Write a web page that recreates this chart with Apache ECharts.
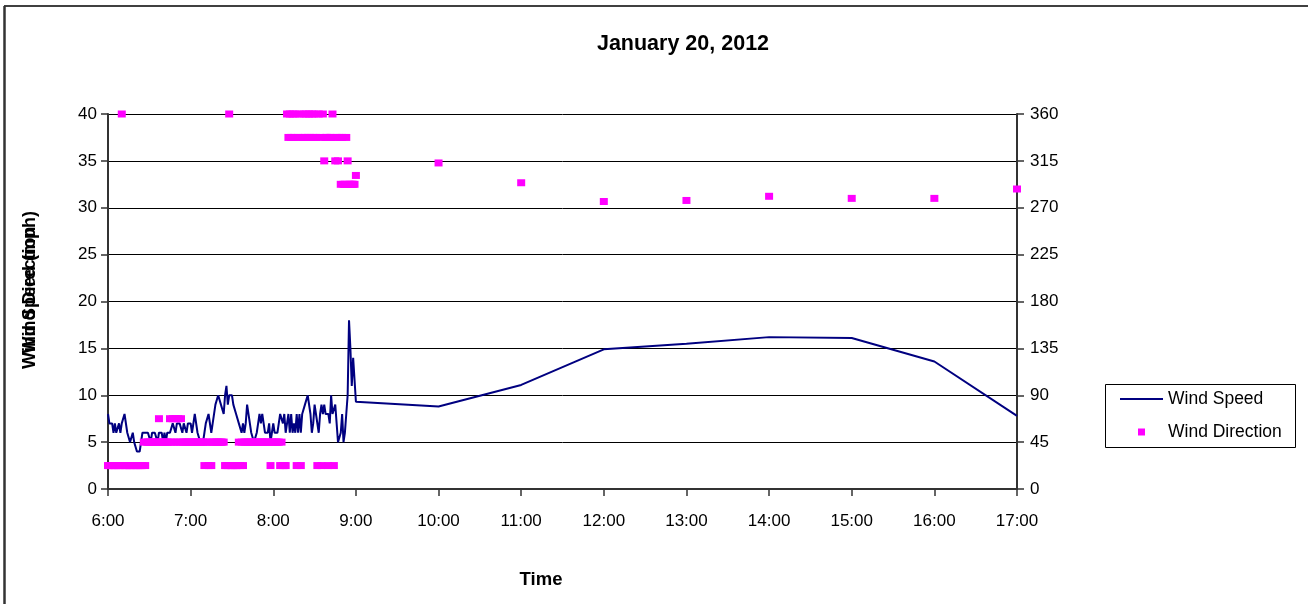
<!DOCTYPE html>
<html>
<head>
<meta charset="utf-8">
<script src="https://cdn.jsdelivr.net/npm/echarts@6/dist/echarts.min.js"></script>
<style>
  html, body { margin: 0; padding: 0; background: #ffffff; }
  #chart { width: 1308px; height: 604px; }
</style>
</head>
<body>
<div id="chart"></div>
<script>
// Chart text
const chartTitle = 'January 20, 2012';
const xAxisTitle = 'Time';
const leftAxisTitles = ['Wind Speed (mph)', 'Wind Direction'];
const seriesNames = ['Wind Speed', 'Wind Direction'];

// Time axis range (hours of the day)
const firstHour = 6;
const lastHour = 17;

// Wind speed (mph), one reading per minute from 6:00 to 8:59
const speedByMinute = [
  8, 7, 7, 7, 6, 7, 6, 6, 7, 6,
  7, 7, 8, 8, 6, 6, 5, 5, 6, 5,
  5, 4, 4, 4, 4, 6, 6, 6, 6, 6,
  6, 5, 6, 6, 6, 6, 5, 6, 6, 6,
  5, 6, 5, 6, 6, 6, 6, 7, 7, 6,
  7, 7, 7, 7, 6, 7, 7, 6, 7, 7,
  7, 6, 7, 8, 8, 6, 6, 5, 5, 5,
  6, 7, 7, 8, 8, 6, 7, 7, 9, 9,
  10, 10, 9, 9, 8, 10, 11, 9, 10, 10,
  10, 9, 9, 8, 8, 7, 7, 6, 7, 6,
  7, 9, 9, 7, 6, 6, 5, 5, 6, 7,
  8, 7, 8, 7, 6, 6, 6, 7, 5, 6,
  7, 6, 6, 6, 7, 8, 8, 7, 8, 6,
  7, 8, 6, 8, 6, 7, 6, 8, 6, 8,
  6, 8, 8, 9, 9, 10, 10, 8, 6, 7,
  9, 8, 8, 6, 8, 9, 8, 9, 8, 8,
  8, 7, 10, 8, 8, 9, 7, 5, 5, 6,
  8, 5, 6, 8, 10, 18, 15, 11, 14, 14
];

// Wind direction (degrees), one reading per minute from 6:00 to 8:59
const directionByMinute = [
  22.5, 22.5, 22.5, 22.5, 22.5, 22.5, 22.5, 22.5, 22.5, 22.5,
  360, 22.5, 22.5, 22.5, 22.5, 22.5, 22.5, 22.5, 22.5, 22.5,
  22.5, 22.5, 22.5, 22.5, 22.5, 22.5, 45, 22.5, 45, 45,
  45, 45, 45, 45, 45, 45, 45, 67.5, 45, 45,
  45, 45, 45, 45, 45, 67.5, 45, 67.5, 45, 67.5,
  45, 67.5, 45, 67.5, 45, 45, 45, 45, 45, 45,
  45, 45, 45, 45, 45, 45, 45, 45, 45, 45,
  22.5, 45, 45, 22.5, 45, 22.5, 45, 45, 45, 45,
  45, 45, 45, 45, 45, 22.5, 22.5, 22.5, 360, 22.5,
  22.5, 22.5, 22.5, 22.5, 22.5, 45, 22.5, 45, 22.5, 45,
  45, 45, 45, 45, 45, 45, 45, 45, 45, 45,
  45, 45, 45, 45, 45, 45, 45, 45, 22.5, 45,
  45, 45, 45, 45, 45, 22.5, 45, 22.5, 22.5, 22.5,
  360, 337.5, 360, 337.5, 360, 337.5, 360, 22.5, 337.5, 360,
  22.5, 337.5, 360, 337.5, 360, 337.5, 360, 337.5, 360, 337.5,
  360, 337.5, 22.5, 360, 337.5, 22.5, 360, 315, 337.5, 337.5,
  22.5, 337.5, 337.5, 360, 22.5, 315, 337.5, 315, 337.5, 292.5,
  337.5, 292.5, 292.5, 337.5, 315, 292.5, 292.5, 292.5, 292.5, 292.5
];

// Hourly readings from 9:00 onward
const hourlyTimes = ['9:00', '10:00', '11:00', '12:00', '13:00', '14:00', '15:00', '16:00', '17:00'];
const hourlySpeed = [9.3, 8.8, 11.1, 14.9, 15.5, 16.2, 16.1, 13.6, 7.8];
const hourlyDirection = [301, 313, 294, 276, 277, 281, 279, 279, 288];

function clockToHours(label) {
  const parts = label.split(':').map(Number);
  return parts[0] + parts[1] / 60;
}

function buildSeries(perMinute, hourly) {
  const points = perMinute.map((v, i) => [firstHour + i / 60, v]);
  hourlyTimes.forEach((t, i) => points.push([clockToHours(t), hourly[i]]));
  return points;
}

const speedData = buildSeries(speedByMinute, hourlySpeed);
const directionData = buildSeries(directionByMinute, hourlyDirection);

const FONT = '"Liberation Sans", Arial, sans-serif';
const speedColor = '#000080';
const directionColor = '#FF00FF';

const chart = echarts.init(document.getElementById('chart'), null, { renderer: 'canvas' });

chart.setOption({
  animation: false,
  backgroundColor: '#ffffff',
  textStyle: { fontFamily: FONT, color: '#000' },
  grid: { left: 108, right: 291, top: 114, bottom: 115, containLabel: false },
  xAxis: {
    type: 'value',
    min: firstHour,
    max: lastHour,
    interval: 1,
    axisLine: { show: true, lineStyle: { color: '#333', width: 2 } },
    axisTick: { show: true, length: 7, inside: false, lineStyle: { color: '#333', width: 1.5 } },
    axisLabel: {
      margin: 24,
      fontSize: 17,
      color: '#000',
      fontFamily: FONT,
      formatter: v => Math.round(v) + ':00'
    },
    splitLine: { show: false }
  },
  yAxis: [
    {
      type: 'value',
      position: 'left',
      min: 0,
      max: 40,
      interval: 5,
      axisLine: { show: true, lineStyle: { color: '#333', width: 2 } },
      axisTick: { show: true, length: 7, lineStyle: { color: '#333', width: 1.5 } },
      axisLabel: { margin: 11, fontSize: 17, color: '#000', fontFamily: FONT },
      splitLine: { show: true, lineStyle: { color: '#000', width: 1 } }
    },
    {
      type: 'value',
      position: 'right',
      min: 0,
      max: 360,
      interval: 45,
      axisLine: { show: true, lineStyle: { color: '#333', width: 2 } },
      axisTick: { show: true, length: 7, lineStyle: { color: '#333', width: 1.5 } },
      axisLabel: { margin: 13, fontSize: 17, color: '#000', fontFamily: FONT },
      splitLine: { show: false }
    }
  ],
  legend: {
    orient: 'vertical',
    left: 1120,
    top: 389,
    padding: 0,
    itemGap: 13,
    itemWidth: 43,
    itemHeight: 7,
    symbolKeepAspect: true,
    textStyle: { fontSize: 17.5, lineHeight: 20, color: '#000', fontFamily: FONT },
    data: [
      { name: seriesNames[0], icon: 'path://M0,0H43V2H0Z' },
      { name: seriesNames[1], icon: 'path://M0,0H7V7H0Z' }
    ]
  },
  series: [
    {
      name: seriesNames[0],
      type: 'line',
      yAxisIndex: 0,
      data: speedData,
      showSymbol: false,
      symbol: 'none',
      color: speedColor,
      itemStyle: { color: speedColor },
      lineStyle: { color: speedColor, width: 2 },
      z: 2
    },
    {
      name: seriesNames[1],
      type: 'scatter',
      yAxisIndex: 1,
      data: directionData,
      symbol: 'rect',
      symbolSize: [8, 7],
      color: directionColor,
      itemStyle: { color: directionColor, opacity: 1 },
      z: 3
    }
  ],
  graphic: [
    // chart frame
    { type: 'line', shape: { x1: 4, y1: 6, x2: 1308, y2: 6 }, style: { stroke: '#000', lineWidth: 1.5 } },
    { type: 'line', shape: { x1: 4.5, y1: 6, x2: 4.5, y2: 604 }, style: { stroke: '#333', lineWidth: 2.5 } },
    // legend frame
    { type: 'rect', shape: { x: 1105.5, y: 384.5, width: 190, height: 63 }, style: { fill: 'none', stroke: '#000', lineWidth: 1 }, z: -1 },
    // title
    { type: 'text', x: 683, y: 44, style: { text: chartTitle, font: 'bold 21.5px ' + FONT, fill: '#000', align: 'center', verticalAlign: 'middle' } },
    // x axis title
    { type: 'text', x: 541, y: 580, style: { text: xAxisTitle, font: 'bold 18.5px ' + FONT, fill: '#000', align: 'center', verticalAlign: 'middle' } },
    // left axis titles (drawn in the same place)
    { type: 'text', x: 30, y: 290, rotation: Math.PI / 2, style: { text: leftAxisTitles[0], font: 'bold 18px ' + FONT, fill: '#000', align: 'center', verticalAlign: 'middle' } },
    { type: 'text', x: 30, y: 290, rotation: Math.PI / 2, style: { text: leftAxisTitles[1], font: 'bold 18px ' + FONT, fill: '#000', align: 'center', verticalAlign: 'middle' } }
  ]
});
</script>
</body>
</html>
